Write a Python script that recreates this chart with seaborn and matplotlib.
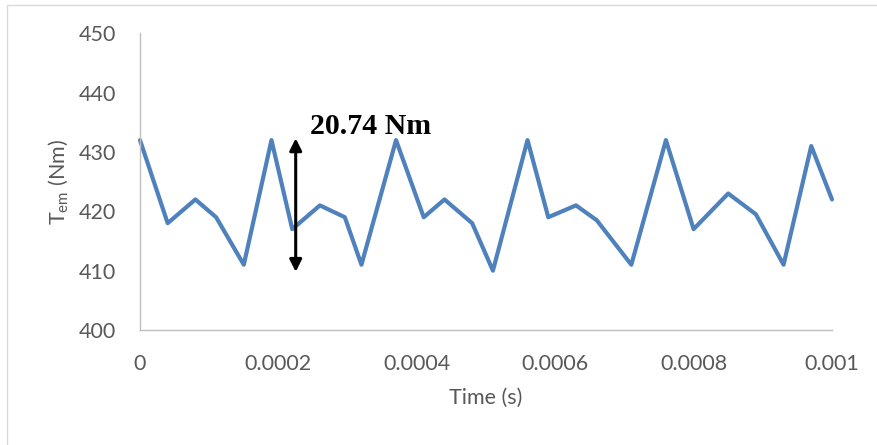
import pandas as pd
import matplotlib.pyplot as plt
import matplotlib.patches as mpatches
import seaborn as sns

# 읽어낸 토크 파형 값
time_us = [0, 40, 80, 110, 150, 190, 220, 260, 296, 320, 370, 410, 440, 480,
           510, 560, 590, 630, 660, 710, 760, 800, 850, 890, 930, 970, 1000]
torque = [432, 418, 422, 419, 411, 432, 417, 421, 419, 411, 432, 419, 422, 418,
          410, 432, 419, 421, 418.5, 411, 432, 417, 423, 419.5, 411, 431, 422]
x_ticks = [0, 0.0002, 0.0004, 0.0006, 0.0008, 0.001]
x_labels = ['0', '0.0002', '0.0004', '0.0006', '0.0008', '0.001']
y_ticks = [400, 410, 420, 430, 440, 450]
ripple_label = '20.74 Nm'
ripple_x = 0.000225
ripple_lo, ripple_hi = 409.8, 432.3

df = pd.DataFrame({'time': [t * 1e-6 for t in time_us], 'torque': torque})

sns.set_theme(style='white')
plt.rcParams['font.family'] = ['Lato', 'DejaVu Sans']
plt.rcParams['mathtext.fontset'] = 'custom'
plt.rcParams['mathtext.rm'] = 'Lato'

fig = plt.figure(figsize=(8.77, 4.45), dpi=100)
ax = fig.add_axes([140 / 877, 115 / 445, 692 / 877, 296.7 / 445])

sns.lineplot(data=df, x='time', y='torque', ax=ax, color='#4F81BD', linewidth=3.0)
for line in ax.lines:
    line.set_clip_on(False)

ax.set_xlim(0, 0.001)
ax.set_ylim(400, 450)
ax.set_xticks(x_ticks)
ax.set_xticklabels(x_labels)
ax.set_yticks(y_ticks)
ax.tick_params(axis='both', length=0, labelsize=15.5, labelcolor='#595959')
ax.tick_params(axis='x', pad=17)
ax.tick_params(axis='y', pad=17)
for side in ['top', 'right']:
    ax.spines[side].set_visible(False)
for side in ['left', 'bottom']:
    ax.spines[side].set_color('#BFBFBF')
    ax.spines[side].set_linewidth(1.0)

ax.set_xlabel('Time (s)', fontsize=15.5, color='#595959', labelpad=10)
ax.set_ylabel('T$_{\\mathrm{em}}$ (Nm)', fontsize=15.5, color='#595959')
ax.yaxis.set_label_coords(-0.1, 0.5)

# 리플 화살표 및 텍스트
ax.annotate('', xy=(ripple_x, ripple_lo), xytext=(ripple_x, ripple_hi),
            arrowprops=dict(arrowstyle='<|-|>', color='black', lw=2.2,
                            mutation_scale=18, shrinkA=0, shrinkB=0))
ax.text(ripple_x + 0.000020, 434.3, ripple_label, fontsize=21.5, fontweight='bold',
        family=['Liberation Serif', 'DejaVu Serif'], color='black', va='center', ha='left')

# 차트 영역 테두리
fig.patches.append(mpatches.Rectangle((7 / 877, -0.05), 1.0, (445 - 4.5) / 445 + 0.05,
                                      transform=fig.transFigure, fill=False,
                                      edgecolor='#D9D9D9', linewidth=1.0))

fig.savefig('out.png', dpi=100)
